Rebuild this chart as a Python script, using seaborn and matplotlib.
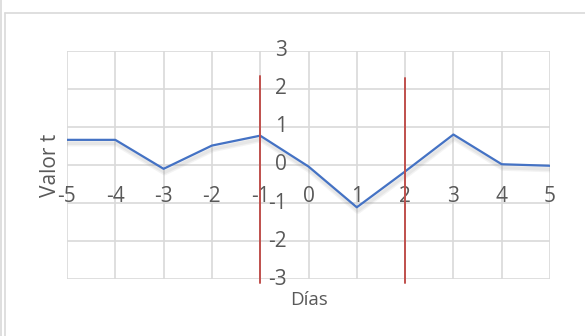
import matplotlib
matplotlib.use("Agg")
import matplotlib.pyplot as plt
from matplotlib.lines import Line2D
from matplotlib import patheffects as pe
import pandas as pd
import seaborn as sns

# Series values
dias = [-5, -4, -3, -2, -1, 0, 1, 2, 3, 4, 5]
valor_t = [0.66, 0.66, -0.10, 0.51, 0.77, -0.04, -1.11, -0.17, 0.80, 0.02, -0.02]

# Vertical reference lines (x position, top, bottom)
limites_x = [-1, 2]
limites_sup = [2.34, 2.28]
limite_inf = -3.1

x_ticks = list(range(-5, 6))
y_ticks = list(range(-3, 4))

sns.set_style("white")
plt.rcParams["font.family"] = ["Open Sans", "DejaVu Sans"]

TEXT = "#595959"
GRID = "#d9d9d9"

fig = plt.figure(figsize=(5.85, 3.36), dpi=100)
ax = fig.add_axes([67 / 585, 1 - 279.3 / 336, (550 - 67) / 585, (279.3 - 50.7) / 336])

# soft drop shadow under the series line
shadow = [
    pe.SimpleLineShadow(offset=(0.8, -2.5), shadow_color="#909090", alpha=0.10, linewidth=4.5),
    pe.SimpleLineShadow(offset=(0.8, -2.5), shadow_color="#909090", alpha=0.12, linewidth=2.5),
    pe.Normal(),
]

df = pd.DataFrame({"Días": dias, "Valor t": valor_t})
sns.lineplot(data=df, x="Días", y="Valor t", ax=ax, color="#4472C4", lw=1.6, zorder=3,
             path_effects=shadow)

for xv, top in zip(limites_x, limites_sup):
    ax.plot([xv, xv], [limite_inf, top], color="#C0504D", lw=1.4, zorder=4, clip_on=False)

ax.set_xlim(-5, 5)
ax.set_ylim(-3, 3)
ax.set_xticks(x_ticks)
ax.set_yticks(y_ticks)
ax.tick_params(length=0, labelbottom=False, labelleft=False)
ax.grid(True, color=GRID, lw=1.2, zorder=0)
ax.set_axisbelow(True)
for s in ax.spines.values():
    s.set_visible(False)
ax.set_xlabel("")
ax.set_ylabel("")

# Axis labels placed at the axes crossing (Excel style)
for xv in x_ticks:
    ax.text(xv, -0.83, str(xv), ha="center", va="center", fontsize=15, color=TEXT, zorder=1)
for yv in y_ticks:
    ax.text(-0.45, yv, str(yv), ha="right", va="center", fontsize=15, color=TEXT, zorder=1)

ax.text(0, -3.54, "Días", ha="center", va="center", fontsize=13.5, color=TEXT, clip_on=False)
ax.text(-5.35, 0, "Valor t", ha="center", va="center", rotation=90, fontsize=15,
        color=TEXT, clip_on=False)

# Chart-area frame
fig.add_artist(Line2D([5 / 585, 5 / 585], [0, 1 - 13 / 336], color=GRID, lw=1.2))
fig.add_artist(Line2D([1 / 585, 1 / 585], [0, 1], color=GRID, lw=1.2))
fig.add_artist(Line2D([5 / 585, 1], [1 - 13 / 336, 1 - 13 / 336], color=GRID, lw=1.2))

fig.savefig("out.png", dpi=100)
